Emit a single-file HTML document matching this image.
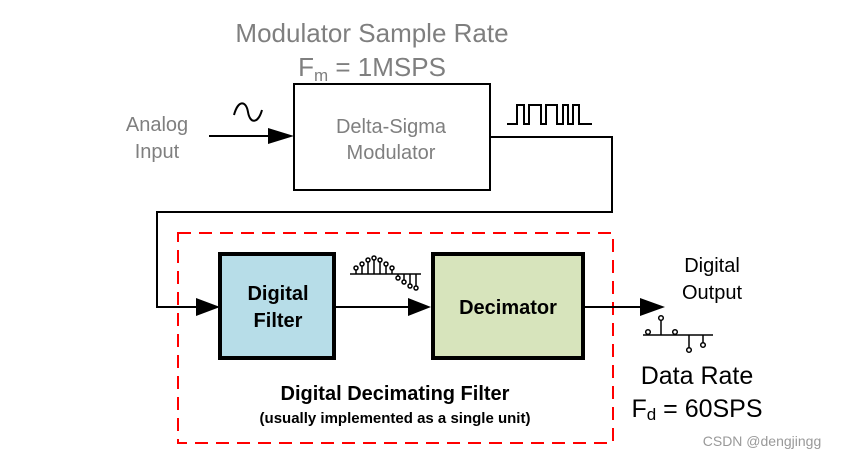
<!DOCTYPE html>
<html><head><meta charset="utf-8"><style>
html,body{margin:0;padding:0;background:#fff;}
svg{display:block;font-family:"Liberation Sans","DejaVu Sans",sans-serif;}
</style></head><body>
<svg width="853" height="457" viewBox="0 0 853 457" xmlns="http://www.w3.org/2000/svg">
<g fill="#7f7f7f" font-size="26" text-anchor="middle">
<text x="372" y="42">Modulator Sample Rate</text>
<text x="372" y="76">F<tspan font-size="17" dy="5">m</tspan><tspan dy="-5"> = 1MSPS</tspan></text>
</g>
<rect x="294" y="84" width="196" height="106" fill="#fff" stroke="#000" stroke-width="2"/>
<g fill="#7f7f7f" font-size="20" text-anchor="middle">
<text x="157" y="131">Analog</text>
<text x="157" y="158">Input</text>
<text x="391" y="133">Delta-Sigma</text>
<text x="391" y="159">Modulator</text>
</g>
<path d="M234,115 C238,100 246,100 248,112 C250,124 258,124 262,110" fill="none" stroke="#000" stroke-width="2"/>
<line x1="209" y1="136" x2="282" y2="136" stroke="#000" stroke-width="2"/>
<path d="M268,128 L294,136 L268,144 z" fill="#000"/>
<path d="M507,124 L517,124 L517,105 L524,105 L524,124 L529,124 L529,105 L541,105 L541,124 L546,124 L546,105 L557,105 L557,124 L563,124 L563,105 L568,105 L568,124 L573,124 L573,105 L579,105 L579,124 L592,124" fill="none" stroke="#000" stroke-width="2"/>
<path d="M490,137 L612,137 L612,212 L157,212 L157,307 L200,307" fill="none" stroke="#000" stroke-width="2"/>
<path d="M196,298 L220,307 L196,316 z" fill="#000"/>
<rect x="178" y="233" width="435" height="210" fill="none" stroke="#ff0000" stroke-width="2" stroke-dasharray="13,8"/>
<rect x="220" y="254" width="114" height="104" fill="#b7dde8" stroke="#000" stroke-width="4"/>
<rect x="433" y="254" width="150" height="104" fill="#d7e4bc" stroke="#000" stroke-width="4"/>
<g font-size="20" font-weight="bold" text-anchor="middle" fill="#000">
<text x="278" y="300">Digital</text>
<text x="278" y="327">Filter</text>
<text x="508" y="314">Decimator</text>
<text x="395" y="400">Digital Decimating Filter</text>
<text x="395" y="423" font-size="15">(usually implemented as a single unit)</text>
</g>
<line x1="336" y1="307" x2="414" y2="307" stroke="#000" stroke-width="2"/>
<path d="M408,298 L431,307 L408,316 z" fill="#000"/>
<line x1="585" y1="307" x2="648" y2="307" stroke="#000" stroke-width="2"/>
<path d="M640,298 L665,307 L640,316 z" fill="#000"/>
<g stroke="#000" stroke-width="1.5" fill="#fff">
<line x1="350" y1="274" x2="421" y2="274"/>
<line x1="356" y1="274" x2="356" y2="268"/><line x1="362" y1="274" x2="362" y2="264"/><line x1="368" y1="274" x2="368" y2="260"/><line x1="374" y1="274" x2="374" y2="258"/><line x1="380" y1="274" x2="380" y2="260"/><line x1="386" y1="274" x2="386" y2="264"/><line x1="392" y1="274" x2="392" y2="268"/>
<line x1="398" y1="274" x2="398" y2="278"/><line x1="404" y1="274" x2="404" y2="282"/><line x1="410" y1="274" x2="410" y2="286"/><line x1="416" y1="274" x2="416" y2="288"/>
<circle cx="356" cy="268" r="2"/><circle cx="362" cy="264" r="2"/><circle cx="368" cy="260" r="2"/><circle cx="374" cy="258" r="2"/><circle cx="380" cy="260" r="2"/><circle cx="386" cy="264" r="2"/><circle cx="392" cy="268" r="2"/>
<circle cx="398" cy="278" r="2"/><circle cx="404" cy="282" r="2"/><circle cx="410" cy="286" r="2"/><circle cx="416" cy="288" r="2"/>
<line x1="643" y1="335" x2="713" y2="335"/>
<line x1="661" y1="335" x2="661" y2="319"/><line x1="689" y1="335" x2="689" y2="349"/><line x1="703" y1="335" x2="703" y2="344"/>
<circle cx="648" cy="332" r="2.3"/><circle cx="661" cy="318" r="2.3"/><circle cx="675" cy="332" r="2.3"/><circle cx="689" cy="350" r="2.3"/><circle cx="703" cy="345" r="2.3"/>
</g>
<g fill="#000" text-anchor="middle">
<text x="712" y="272" font-size="20">Digital</text>
<text x="712" y="299" font-size="20">Output</text>
<text x="697" y="384" font-size="25">Data Rate</text>
<text x="697" y="417" font-size="25">F<tspan font-size="17" dy="3">d</tspan><tspan dy="-3"> = 60SPS</tspan></text>
</g>
<text x="762" y="446" font-size="14" fill="#999" text-anchor="middle">CSDN @dengjingg</text>
</svg>
</body></html>
